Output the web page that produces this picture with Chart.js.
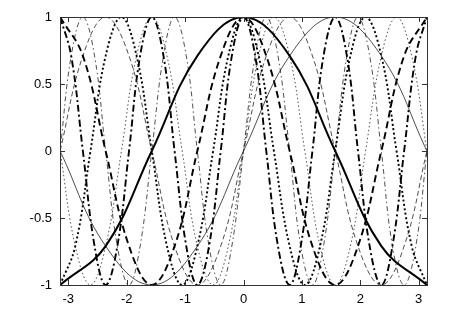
<!DOCTYPE html>
<html>
<head>
<meta charset="utf-8">
<script src="https://cdn.jsdelivr.net/npm/chart.js@4.4.1/dist/chart.umd.min.js"></script>
<style>
  html, body { margin: 0; padding: 0; background: #fff; }
  #chart { display: block; }
</style>
</head>
<body>
<canvas id="chart" width="452" height="317"></canvas>
<script>
// Points: peaks, troughs, zero crossings and the ~0.71 levels between them
const x1 = [-3.14, -2.36, -1.57, -0.79, 0, 0.79, 1.57, 2.36, 3.14];
const x2 = [-3.14, -2.75, -2.36, -1.96, -1.57, -1.18, -0.79, -0.39, 0,
            0.39, 0.79, 1.18, 1.57, 1.96, 2.36, 2.75, 3.14];
const x3 = [-3.14, -2.88, -2.62, -2.36, -2.09, -1.83, -1.57, -1.31, -1.05, -0.79, -0.52, -0.26, 0,
            0.26, 0.52, 0.79, 1.05, 1.31, 1.57, 1.83, 2.09, 2.36, 2.62, 2.88, 3.14];
const x4 = [-3.14, -2.95, -2.75, -2.55, -2.36, -2.16, -1.96, -1.77, -1.57, -1.37, -1.18, -0.98,
            -0.79, -0.59, -0.39, -0.2, 0, 0.2, 0.39, 0.59, 0.79, 0.98, 1.18, 1.37, 1.57, 1.77,
            1.96, 2.16, 2.36, 2.55, 2.75, 2.95, 3.14];

const cos1 = [-1, -0.71, 0, 0.71, 1, 0.71, 0, -0.71, -1];
const sin1 = [0, -0.71, -1, -0.71, 0, 0.71, 1, 0.71, 0];
const cos2 = [1, 0.71, 0, -0.71, -1, -0.71, 0, 0.71, 1, 0.71, 0, -0.71, -1, -0.71, 0, 0.71, 1];
const sin2 = [0, 0.71, 1, 0.71, 0, -0.71, -1, -0.71, 0, 0.71, 1, 0.71, 0, -0.71, -1, -0.71, 0];
const cos3 = [-1, -0.71, 0, 0.71, 1, 0.71, 0, -0.71, -1, -0.71, 0, 0.71, 1,
              0.71, 0, -0.71, -1, -0.71, 0, 0.71, 1, 0.71, 0, -0.71, -1];
const sin3 = [0, -0.71, -1, -0.71, 0, 0.71, 1, 0.71, 0, -0.71, -1, -0.71, 0,
              0.71, 1, 0.71, 0, -0.71, -1, -0.71, 0, 0.71, 1, 0.71, 0];
const cos4 = [1, 0.71, 0, -0.71, -1, -0.71, 0, 0.71, 1, 0.71, 0, -0.71, -1, -0.71, 0, 0.71, 1,
              0.71, 0, -0.71, -1, -0.71, 0, 0.71, 1, 0.71, 0, -0.71, -1, -0.71, 0, 0.71, 1];
const sin4 = [0, 0.71, 1, 0.71, 0, -0.71, -1, -0.71, 0, 0.71, 1, 0.71, 0, -0.71, -1, -0.71, 0,
              0.71, 1, 0.71, 0, -0.71, -1, -0.71, 0, 0.71, 1, 0.71, 0, -0.71, -1, -0.71, 0];

const xTicks = [-3, -2, -1, 0, 1, 2, 3];
const yTicks = [-1, -0.5, 0, 0.5, 1];

function pts(xs, ys) {
    return xs.map((v, i) => ({ x: v, y: ys[i] }));
}

function line(xs, ys, width, dash, color) {
    return {
        data: pts(xs, ys),
        borderColor: color,
        borderWidth: width,
        borderDash: dash,
        pointRadius: 0,
        tension: 0.4,
        fill: false
    };
}

// box with inward tick marks on all four sides
const frameTicks = {
    id: 'frameTicks',
    afterDraw(chart) {
        const { ctx, chartArea: a, scales } = chart;
        const len = 5;
        ctx.save();
        ctx.strokeStyle = '#333';
        ctx.lineWidth = 1;
        ctx.strokeRect(a.left + 0.5, a.top + 0.5, a.right - a.left, a.bottom - a.top);
        ctx.beginPath();
        xTicks.forEach(v => {
            const px = Math.round(scales.x.getPixelForValue(v)) + 0.5;
            ctx.moveTo(px, a.bottom);
            ctx.lineTo(px, a.bottom - len);
            ctx.moveTo(px, a.top);
            ctx.lineTo(px, a.top + len);
        });
        yTicks.forEach(v => {
            const py = Math.round(scales.y.getPixelForValue(v)) + 0.5;
            ctx.moveTo(a.left, py);
            ctx.lineTo(a.left + len, py);
            ctx.moveTo(a.right, py);
            ctx.lineTo(a.right - len, py);
        });
        ctx.stroke();
        ctx.restore();
    }
};

document.addEventListener('DOMContentLoaded', function() {
    const ctx = document.getElementById('chart');

    new Chart(ctx, {
        type: 'line',
        data: {
            datasets: [
                line(x1, cos1, 2, [], '#000'),
                line(x1, sin1, 0.8, [], '#222'),
                line(x2, cos2, 1.9, [7, 4], '#000'),
                line(x2, sin2, 0.8, [5, 3], '#222'),
                line(x3, cos3, 1.9, [2, 2.5], '#000'),
                line(x3, sin3, 0.8, [1.5, 2.5], '#222'),
                line(x4, cos4, 1.9, [7, 3, 2, 3], '#000'),
                line(x4, sin4, 0.8, [5, 3, 1.5, 3], '#222')
            ]
        },
        options: {
            responsive: false,
            animation: false,
            layout: {
                padding: { top: 17, right: 25, left: 0, bottom: 0 }
            },
            plugins: {
                legend: { display: false },
                tooltip: { enabled: false }
            },
            scales: {
                x: {
                    type: 'linear',
                    min: -3.1416,
                    max: 3.1416,
                    grid: { display: false, drawTicks: false },
                    border: { display: false },
                    afterBuildTicks: s => { s.ticks = xTicks.map(v => ({ value: v })); },
                    afterFit: s => { s.height = 32; },
                    ticks: {
                        padding: 7,
                        color: '#000',
                        font: { family: 'Liberation Sans', size: 13 },
                        callback: v => String(v)
                    }
                },
                y: {
                    min: -1,
                    max: 1,
                    grid: { display: false, drawTicks: false },
                    border: { display: false },
                    afterBuildTicks: s => { s.ticks = yTicks.map(v => ({ value: v })); },
                    afterFit: s => { s.width = 60; },
                    ticks: {
                        padding: 8,
                        color: '#000',
                        font: { family: 'Liberation Sans', size: 13 },
                        callback: v => String(v)
                    }
                }
            }
        },
        plugins: [frameTicks]
    });
});
</script>
</body>
</html>
